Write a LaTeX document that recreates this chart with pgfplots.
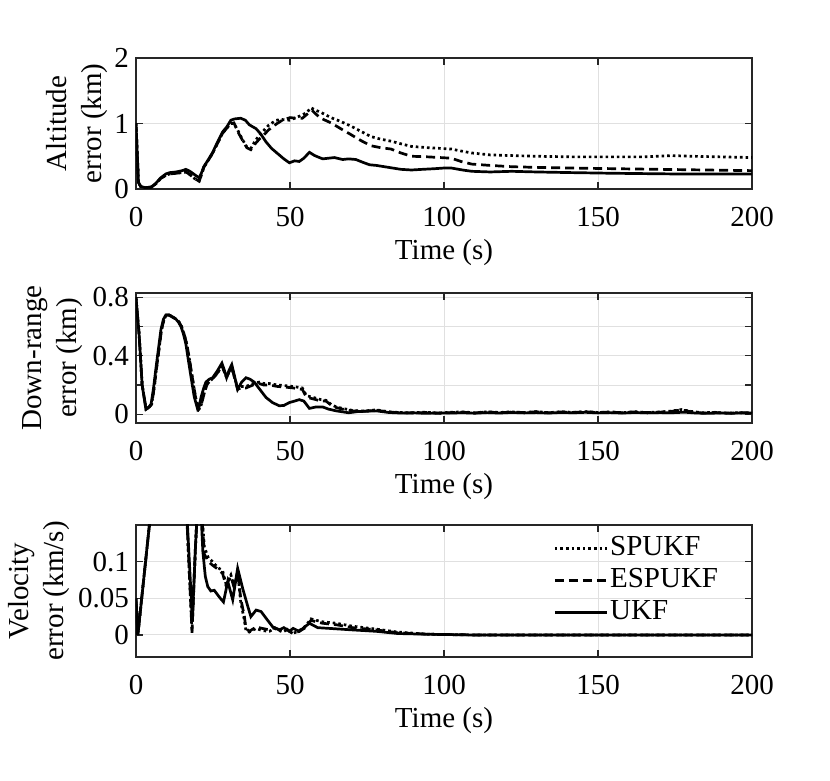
\documentclass[border=0pt]{standalone}
\usepackage{pgfplots}
\pgfplotsset{compat=1.18}
\usepackage{fontspec}
\setmainfont{Liberation Serif}
\newcommand\fs{\fontsize{14.5}{17.5}\selectfont}
\pgfplotsset{
 myax/.style={
  width=308pt, scale only axis, xmin=0, xmax=200, xtick={0,50,100,150,200},
  tick align=inside, tick pos=both, major tick length=3.5pt,
  grid=major, major grid style={line width=0.5pt, color=black!12},
  axis line style={line width=0.6pt, black!85},
  every tick/.style={black!85, line width=0.6pt},
  tick label style={font=\fs}, label style={font=\fs},
  /pgf/number format/assume math mode=true,
  scaled y ticks=false,
  xticklabel style={anchor=base, yshift=-19pt},
  xlabel={Time (s)},
  xlabel style={at={(axis description cs:0.5,0)}, anchor=base, yshift=-35.5pt},
  ylabel style={anchor=south, align=center, inner sep=0pt},
 },
 sp/.style={black, line width=1.35pt, dash pattern=on 1.3pt off 1.5pt},
 esp/.style={black, line width=1.35pt, dash pattern=on 4.5pt off 2.5pt},
 ukf/.style={black, line width=1.35pt, solid},
}
\begin{document}
\begin{tikzpicture}
\path[use as bounding box] (0,0) rectangle (415pt,390.5pt);
% ---------------- Panel 1 ----------------
\begin{axis}[myax, at={(68pt,296pt)}, anchor=south west, height=65.5pt,
  ymin=0, ymax=2, ytick={0,1,2}, yticklabels={0,1,2},
  ylabel={Altitude\\error (km)},
  ylabel style={at={(axis description cs:-0.046,0.5)}}]
\addplot[sp] coordinates {(0,1.0) (0.8,0.1) (1.5,0.04) (3,0.02) (5,0.03) (6.5,0.08) (8,0.16) (9.7,0.21) (11,0.23) (13,0.24) (15,0.25) (16.2,0.26) (17.5,0.22) (19,0.16) (20.5,0.12) (21.3,0.22) (22,0.33) (23.5,0.44) (24.9,0.55) (26.5,0.70) (28.1,0.85) (29.5,0.93) (30.8,1.0) (31.8,1.0) (33,0.9) (34.5,0.76) (36,0.64) (37.3,0.62) (38.5,0.72) (40,0.82) (41,0.87) (43,0.97) (45.5,1.05) (47.5,1.06) (49.8,1.05) (52,1.09) (54,1.13) (55.5,1.17) (56.8,1.24) (58,1.21) (60,1.17) (63.3,1.09) (66.5,1.03) (69.8,0.96) (73,0.88) (76.3,0.80) (79.5,0.76) (82.8,0.73) (86,0.69) (89.4,0.65) (95,0.63) (102.4,0.61) (105.5,0.58) (109,0.55) (115,0.52) (122,0.51) (130,0.50) (141.5,0.49) (155,0.49) (165,0.49) (174,0.51) (180,0.50) (190,0.49) (200,0.48)};
\addplot[esp] coordinates {(0,1.0) (0.8,0.1) (1.5,0.04) (3,0.02) (5,0.03) (6.5,0.08) (8,0.16) (9.7,0.21) (11,0.23) (13,0.24) (15,0.25) (16.2,0.26) (17.5,0.22) (19,0.16) (20.5,0.12) (21.3,0.22) (22,0.33) (23.5,0.44) (24.9,0.55) (26.5,0.70) (28.1,0.85) (29.5,0.93) (30.8,1.0) (31.8,1.01) (33,0.88) (34.5,0.75) (36,0.63) (37.3,0.60) (38.5,0.68) (40,0.76) (41,0.80) (43,0.90) (45.5,0.99) (47.5,1.05) (50,1.09) (52,1.08) (54,1.08) (55.5,1.14) (57.2,1.20) (58.5,1.14) (60,1.08) (63.3,1.01) (66.5,0.92) (69.8,0.83) (73,0.74) (76.3,0.66) (79.5,0.63) (82.8,0.61) (86,0.55) (89.4,0.50) (95,0.49) (102.4,0.47) (105.5,0.42) (109,0.38) (115,0.36) (122,0.34) (130,0.33) (141.5,0.32) (155,0.31) (170,0.30) (185,0.29) (200,0.28)};
\addplot[ukf] coordinates {(0,1.0) (0.8,0.1) (1.5,0.04) (3,0.02) (5,0.03) (6.5,0.09) (8,0.17) (9.7,0.23) (11,0.25) (13,0.26) (15,0.28) (16.2,0.30) (17.5,0.27) (19,0.22) (20.5,0.17) (21.3,0.25) (22,0.34) (23.5,0.45) (24.9,0.56) (26.5,0.72) (28.1,0.87) (29.5,0.95) (30.8,1.05) (32,1.07) (34,1.08) (35.5,1.05) (36.8,0.98) (39,0.92) (40.5,0.84) (42.2,0.72) (44,0.62) (46.5,0.52) (48,0.46) (49.8,0.40) (51.5,0.43) (53,0.42) (54.5,0.47) (56.3,0.56) (58,0.51) (60.6,0.46) (62.5,0.47) (64.4,0.48) (67.1,0.45) (69,0.46) (71.4,0.45) (73.5,0.41) (75.8,0.37) (78,0.36) (82,0.33) (86,0.30) (89.4,0.29) (93,0.30) (97,0.31) (100,0.32) (102.4,0.32) (106,0.29) (109,0.27) (115,0.26) (122,0.27) (130,0.26) (141.5,0.25) (155,0.24) (174,0.23) (185,0.23) (200,0.23)};
\end{axis}
% ---------------- Panel 2 ----------------
\begin{axis}[myax, at={(68pt,179pt)}, anchor=south west, height=65pt,
  ymin=-0.06, ymax=0.83, ytick={0,0.2,0.4,0.6,0.8}, yticklabels={0,,0.4,,0.8},
  ylabel={Down-range\\error (km)},
  ylabel style={at={(axis description cs:-0.086,0.5)}}]
\addplot[sp] coordinates {(0,0.80) (1,0.55) (2,0.2) (3.3,0.035) (4.4,0.05) (5.1,0.07) (5.9,0.18) (6.7,0.32) (7.5,0.45) (8.3,0.58) (9.1,0.65) (9.9,0.68) (10.7,0.68) (11.6,0.67) (12.4,0.66) (13.2,0.65) (14,0.63) (14.8,0.60) (15.6,0.55) (16.5,0.48) (17.4,0.37) (18.3,0.25) (19.3,0.12) (20.4,0.035) (21,0.05) (21.6,0.10) (22.5,0.17) (23.2,0.21) (24.2,0.23) (25.2,0.25) (26.7,0.29) (27.9,0.33) (28.7,0.29) (29.4,0.25) (30.2,0.29) (31.1,0.32) (32,0.25) (33,0.18) (34,0.19) (35.7,0.19) (38,0.21) (40,0.22) (41.5,0.21) (43.3,0.21) (46,0.20) (48.7,0.195) (51,0.19) (54,0.18) (55,0.14) (55.7,0.125) (58.4,0.11) (60,0.10) (61.7,0.095) (63.5,0.065) (65,0.05) (67,0.04) (70.3,0.026) (74,0.022) (78,0.03) (82,0.017) (86,0.012) (90,0.01) (94,0.014) (98,0.008) (102,0.013) (106,0.016) (110,0.01) (114,0.017) (118,0.012) (122,0.016) (126,0.012) (130,0.018) (134,0.011) (138,0.017) (142,0.013) (146,0.018) (150,0.012) (154,0.016) (158,0.011) (162,0.017) (166,0.012) (170,0.015) (174,0.022) (177,0.032) (180,0.02) (184,0.01) (188,0.013) (192,0.007) (196,0.011) (200,0.008)};
\addplot[esp] coordinates {(0,0.80) (1,0.55) (2,0.2) (3.3,0.035) (4.4,0.05) (5.1,0.07) (5.9,0.18) (6.7,0.32) (7.5,0.45) (8.3,0.58) (9.1,0.65) (9.9,0.68) (10.7,0.68) (11.6,0.67) (12.4,0.66) (13.2,0.65) (14,0.63) (14.8,0.60) (15.6,0.55) (16.5,0.48) (17.4,0.37) (18.3,0.25) (19.3,0.12) (20.4,0.035) (21,0.05) (21.6,0.10) (22.5,0.17) (23.2,0.21) (24.2,0.23) (25.2,0.25) (26.7,0.29) (27.9,0.33) (28.7,0.29) (29.4,0.25) (30.2,0.29) (31.1,0.32) (32,0.25) (33,0.17) (34,0.18) (35.7,0.18) (38,0.20) (40,0.21) (41.5,0.20) (43.3,0.20) (46,0.19) (48.7,0.185) (51,0.18) (54,0.17) (55,0.13) (55.7,0.115) (58.4,0.10) (60,0.09) (61.7,0.09) (63.5,0.06) (65,0.046) (67,0.035) (70.3,0.023) (74,0.02) (78,0.028) (82,0.015) (86,0.01) (90,0.008) (94,0.012) (98,0.006) (102,0.011) (106,0.014) (110,0.009) (114,0.016) (118,0.01) (122,0.015) (126,0.011) (130,0.017) (134,0.01) (138,0.016) (142,0.012) (146,0.017) (150,0.011) (154,0.015) (158,0.01) (162,0.016) (166,0.011) (170,0.014) (174,0.02) (177,0.03) (180,0.018) (184,0.008) (188,0.012) (192,0.006) (196,0.01) (200,0.007)};
\addplot[ukf] coordinates {(0,0.80) (1,0.55) (2,0.2) (3.2,0.035) (4.2,0.05) (4.9,0.07) (5.7,0.18) (6.5,0.32) (7.3,0.45) (8.1,0.58) (8.9,0.65) (9.7,0.68) (10.5,0.68) (11.4,0.67) (12.2,0.66) (13,0.65) (13.8,0.63) (14.6,0.60) (15.4,0.55) (16.2,0.48) (17,0.37) (17.9,0.25) (18.9,0.12) (20,0.035) (20.5,0.05) (21.1,0.115) (22,0.18) (22.7,0.22) (23.8,0.24) (24.9,0.25) (26.5,0.30) (27.9,0.35) (28.7,0.30) (29.4,0.25) (30.2,0.30) (31.1,0.34) (32,0.26) (33,0.17) (34.3,0.22) (35.7,0.25) (37,0.24) (38.4,0.22) (40.2,0.17) (42.2,0.115) (44.3,0.08) (46.5,0.058) (48,0.06) (49.8,0.08) (51.5,0.09) (53,0.10) (54.5,0.09) (56.3,0.04) (58.5,0.05) (60.6,0.05) (62.5,0.035) (65,0.023) (69,0.01) (72,0.018) (78,0.023) (82,0.012) (86,0.008) (90,0.01) (94,0.006) (98,0.009) (102,0.008) (106,0.01) (110,0.007) (114,0.011) (118,0.008) (122,0.012) (126,0.009) (130,0.011) (134,0.008) (138,0.012) (142,0.01) (146,0.013) (150,0.009) (154,0.011) (158,0.008) (162,0.012) (166,0.009) (170,0.011) (174,0.01) (178,0.014) (182,0.008) (186,0.006) (190,0.009) (194,0.007) (198,0.01) (200,0.008)};
\end{axis}
% ---------------- Panel 3 ----------------
\begin{axis}[myax, at={(68pt,62pt)}, anchor=south west, height=66pt,
  ymin=-0.03, ymax=0.15, ytick={0,0.05,0.1}, yticklabels={0,0.05,0.1},
  ylabel={Velocity\\error (km/s)},
  ylabel style={at={(axis description cs:-0.107,0.5)}},
  legend style={at={(axis description cs:0.677,0.947)}, anchor=north west,
    draw=none, fill=none, inner sep=0pt, row sep=0pt, font=\fs,
    nodes={text height=10pt, text depth=3pt, inner ysep=1.5pt, inner xsep=1pt}},
  legend cell align=left,
  legend image code/.code={\draw[#1] (0pt,0pt) -- (26pt,0pt);}]
\addplot[sp] coordinates {(0,0.05) (0.6,0.0) (4.3,0.148) (6,0.22) (10,0.28) (15.5,0.25) (18.2,0.003) (19.3,0.12) (20.3,0.2) (21.3,0.17) (22.2,0.12) (23.5,0.105) (24.9,0.10) (26.5,0.092) (28.1,0.088) (29.2,0.07) (30.8,0.082) (31.9,0.066) (33,0.086) (34,0.045) (35.2,0.02) (35.7,0.006) (36.8,0.004) (39,0.009) (41,0.006) (43.3,0.005) (45,0.009) (47.6,0.004) (49,0.007) (50.9,0.002) (53,0.006) (55,0.012) (56.8,0.022) (58.5,0.02) (60.6,0.018) (65,0.016) (70.3,0.012) (78,0.008) (85,0.004) (95,0.001) (110,0) (200,0)};
\addlegendentry{SPUKF}
\addplot[esp] coordinates {(0,0.05) (0.6,0.0) (4.3,0.148) (6,0.22) (10,0.28) (15.5,0.25) (18.2,0.005) (19.3,0.12) (20.3,0.2) (21.3,0.17) (22.2,0.11) (23.5,0.10) (24.9,0.095) (26.5,0.09) (28.1,0.084) (29.2,0.068) (30.8,0.08) (31.9,0.064) (33,0.086) (34,0.05) (35.2,0.025) (35.7,0.009) (36.8,0.005) (39,0.011) (41,0.009) (43.3,0.007) (45,0.01) (47.6,0.005) (49,0.008) (50.9,0.002) (53,0.005) (55,0.01) (56.8,0.02) (58.5,0.018) (60.6,0.016) (65,0.014) (70.3,0.01) (78,0.007) (85,0.003) (95,0.001) (110,0) (200,0)};
\addlegendentry{ESPUKF}
\addplot[ukf] coordinates {(0,0.05) (0.6,0.0) (4.3,0.148) (6,0.22) (10,0.28) (15.5,0.25) (18.3,0.02) (19.3,0.12) (20.3,0.2) (21.3,0.15) (21.7,0.114) (22.5,0.08) (23.3,0.066) (24.3,0.06) (25.4,0.061) (27,0.052) (28.4,0.045) (29.8,0.073) (31.4,0.048) (33,0.091) (34.6,0.064) (36.3,0.039) (37.3,0.025) (39,0.034) (40.6,0.032) (42.2,0.023) (44.4,0.011) (46.5,0.007) (48,0.01) (49.8,0.005) (51,0.009) (53,0.005) (56.3,0.016) (59,0.01) (62.8,0.009) (70,0.007) (78,0.005) (85,0.002) (95,0.001) (110,0) (200,0)};
\addlegendentry{UKF}
\end{axis}
\end{tikzpicture}
\end{document}
